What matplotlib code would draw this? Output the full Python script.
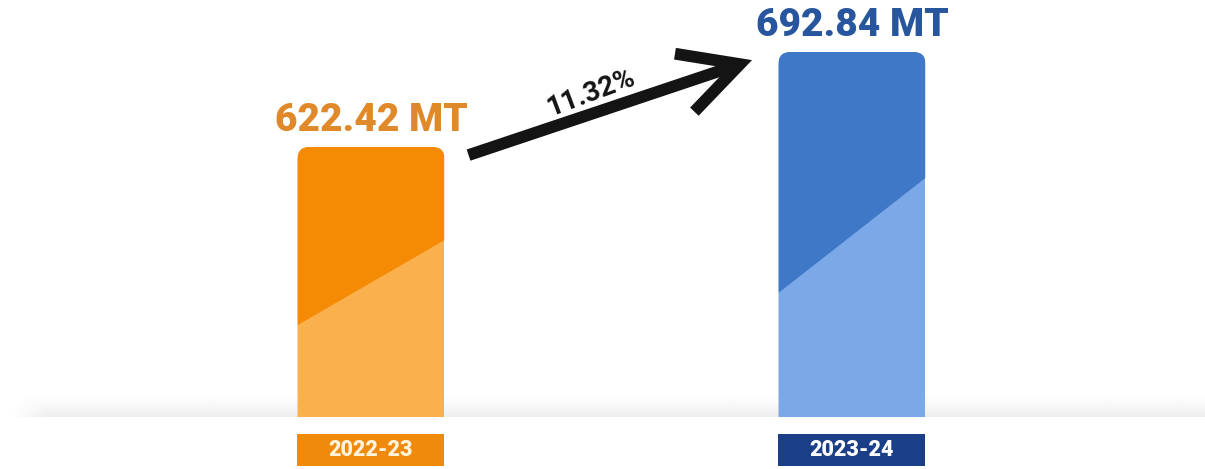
import numpy as np
import matplotlib
matplotlib.use('Agg')
import matplotlib.pyplot as plt
from matplotlib.patches import FancyBboxPatch, Polygon, Rectangle
import matplotlib.transforms as mtransforms

# ---- data ----
categories = ['2022-23', '2023-24']
values = [622.42, 692.84]
value_labels = ['622.42 MT', '692.84 MT']
growth_label = '11.32%'

# ---- style ----
dark_colors = ['#F58A05', '#3E78C6']
light_colors = ['#FBB04E', '#7BA8E6']
label_box_colors = ['#F08A0C', '#1B3F87']
label_text_colors = ['#FFF4DA', '#FFFFFF']
value_text_colors = ['#E0892A', '#28569E']
FONT = ['Roboto', 'DejaVu Sans']

fig = plt.figure(figsize=(12.05, 4.69), dpi=100)
ax = fig.add_axes([0, 0, 1, 1])
base = 422.28
YLIM = (383.7, 731.4)
ax.set_xlim(-0.7713, 1.7339)
ax.set_ylim(*YLIM)
ax.axis('off')

x = np.arange(len(categories))
w = 0.3056
vals = np.array(values)

# shadow band along baseline
xl = ax.get_xlim()
ny, nx = 60, 400
vy = np.linspace(0, 1, ny)[:, None]
alpha_v = (1 - vy) ** 1.4 * 0.085
hx = np.linspace(0, 1, nx)[None, :]
alpha_h = np.clip(hx / 0.03, 0, 1)
rgba = np.zeros((ny, nx, 4))
rgba[..., :3] = 0.2
rgba[..., 3] = alpha_v * alpha_h
ax.imshow(rgba, extent=(xl[0] + 0.02, xl[1], base, base + 18), origin='lower',
          aspect='auto', zorder=1, interpolation='bilinear')
ax.set_xlim(xl)
ax.set_ylim(*YLIM)

bars = ax.bar(x, vals - base, bottom=base, width=w, color=light_colors,
              zorder=2, linewidth=0)

fig.canvas.draw()
p = ax.transData.transform([(0, 0), (1, 1)])
px_x = p[1, 0] - p[0, 0]
px_y = p[1, 1] - p[0, 1]
asp = px_x / px_y

for i, (xi, v) in enumerate(zip(x, vals)):
    h = v - base
    clip = FancyBboxPatch((xi - w / 2, base - 30), w, h + 30,
                          boxstyle='round,pad=0,rounding_size=0.025',
                          mutation_aspect=asp, transform=ax.transData,
                          fc='none', ec='none')
    bars[i].set_clip_path(clip)
    poly = Polygon([(xi - w / 2, base + 0.34 * h), (xi + w / 2, base + 0.655 * h),
                    (xi + w / 2, v), (xi - w / 2, v)],
                   closed=True, fc=dark_colors[i], ec='none', zorder=3)
    ax.add_patch(poly)
    poly.set_clip_path(clip)

    # value label
    ax.annotate(value_labels[i], (xi, v), xytext=(0, 11.5), textcoords='offset points',
                ha='center', va='baseline', fontsize=28, fontweight='black',
                color=value_text_colors[i], family=FONT, zorder=5)

    # category label box
    blend = mtransforms.blended_transform_factory(ax.transData, ax.transAxes)
    ax.add_patch(Rectangle((xi - w / 2, 0.0064), w, 0.068, transform=blend,
                           fc=label_box_colors[i], ec='none', zorder=3))
    ax.text(xi, 0.041, categories[i], transform=blend, ha='center', va='center',
            fontsize=15.5, fontweight='black', color=label_text_colors[i],
            family=FONT, zorder=4)

# growth arrow
start = (x[0] + w / 2 + 0.05, vals[0] - 6)
end = (x[1] - w / 2 - 0.055, vals[1] - 6)
ax.annotate('', xy=end, xytext=start,
            arrowprops=dict(arrowstyle='->,head_length=1.05,head_width=0.55',
                            lw=8.5, color='#141414', mutation_scale=40,
                            shrinkA=0, shrinkB=0, joinstyle='miter',
                            capstyle='butt'), zorder=6)
ps = ax.transData.transform([start, end])
ang = np.degrees(np.arctan2(ps[1, 1] - ps[0, 1], ps[1, 0] - ps[0, 0]))
mid = ((start[0] + end[0]) / 2, (start[1] + end[1]) / 2)
ax.annotate(growth_label, mid, xytext=(-14, 10.5), textcoords='offset points',
            ha='center', va='center', rotation=ang + 2, rotation_mode='anchor',
            fontsize=20, fontweight='bold', color='#141414', family=FONT, zorder=6)

fig.savefig('out.png', dpi=100)
